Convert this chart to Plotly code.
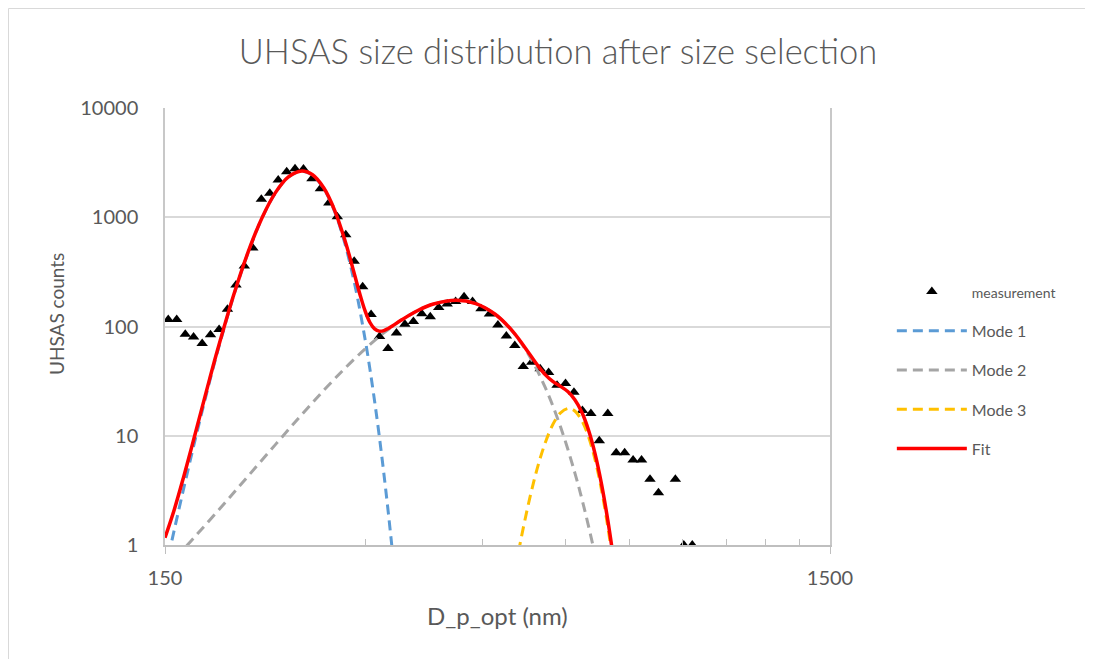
import plotly.graph_objects as go

# ---------------- data ----------------
diam_nm = [151.7, 156.2, 160.9, 165.6, 170.6, 175.6, 180.9, 186.2, 191.8, 197.4,
           203.3, 209.4, 215.6, 222.0, 228.6, 235.3, 242.3, 249.5, 256.9, 264.5,
           272.4, 280.5, 288.8, 297.4, 306.2, 315.3, 324.7, 334.3, 344.2, 354.5,
           365.0, 375.8, 387.0, 398.5, 410.3, 422.5, 435.1, 448.0, 461.3, 475.0,
           489.1, 503.6, 518.6, 534.0, 549.8, 566.2, 583.0, 600.3, 618.1, 636.5,
           655.4, 674.8, 694.9, 715.5, 736.7, 758.6, 781.1, 804.3, 828.2, 852.8,
           878.1, 904.2, 931.1]
counts = [116, 116, 85, 80, 70, 84, 94, 144, 240, 358,
          523, 1460, 1657, 2193, 2612, 2782, 2766, 2254, 1825, 1350,
          1012, 692, 395, 231, 129, 81, 63, 87, 105, 111,
          131, 123, 149, 161, 169, 187, 169, 145, 130, 103,
          82, 67, 43, 47, 41, 38, 29, 30, 25, 17,
          16, 9, 16, 7, 7, 6, 6, 4, 3, None,
          4, 1, 1]

mode1_x = [150, 155, 160, 165, 170, 175, 180, 190, 200, 210, 220, 230, 241,
           250, 260, 270, 280, 290, 300, 305, 310, 315, 320, 325, 330, 335]
mode1_y = [0.568, 1.40, 3.28, 7.30, 15.4, 31.1, 59.4, 185.9, 474.8, 989.5, 1681, 2329, 2635,
           2426, 1824, 1118, 559, 228, 75.8, 40.5, 20.6, 9.92, 4.54, 1.98, 0.82, 0.32]

mode2_x = [150, 160, 170, 185, 200, 220, 240, 260, 280, 300, 320, 340, 360, 380, 411,
           440, 470, 500, 530, 560, 590, 620, 640, 660, 670]
mode2_y = [0.598, 0.917, 1.381, 2.47, 4.27, 8.34, 15.25, 26.1, 41.7, 62.4, 87.3, 114.4, 140.1, 160.6, 174,
           162.2, 130.2, 90.0, 53.5, 27.4, 12.07, 4.58, 2.21, 0.997, 0.653]

mode3_x = [505, 512, 520, 530, 540, 550, 560, 570, 580, 590, 607,
           620, 635, 650, 665, 680, 695, 705, 712]
mode3_y = [0.622, 0.970, 1.551, 2.63, 4.19, 6.25, 8.73, 11.45, 14.07, 16.22, 17.8,
           16.86, 13.83, 9.81, 6.02, 3.19, 1.467, 0.805, 0.509]

fit_x = [150, 155, 160, 165, 170, 175, 180, 190, 200, 210, 220, 230, 241, 250, 260,
         270, 280, 285, 290, 295, 300, 305, 310, 315, 320, 325, 330, 340, 360, 380, 411,
         440, 470, 500, 530, 545, 560, 575, 590, 605, 620, 635, 650, 665, 680, 695, 705, 712]
fit_y = [1.166, 2.14, 4.20, 8.43, 16.8, 32.8, 61.5, 188.9, 479, 995.5, 1689, 2340, 2651, 2446, 1850,
         1151, 601, 412.7, 279, 191.6, 138.2, 108.8, 95.0, 90.7, 91.8, 96.0, 101.6, 114.5, 140.1, 160.6, 174,
         162.2, 130.2, 90.4, 56.1, 44.2, 36.1, 31.3, 28.3, 25.4, 21.4, 16.5, 11.3, 6.83, 3.61, 1.68, 0.94, 0.60]

x_tick_vals = [150, 1500]
x_tick_text = ["150", "1500"]
x_minor_vals = [300, 450, 600, 750, 900, 1050, 1200, 1350]
y_tick_vals = [1, 10, 100, 1000, 10000]
y_tick_text = ["1", "10", "100", "1000", "10000"]

# ---------------- figure ----------------
FONT = "Lato"
TXT = "#595959"
DASH = "10px,6px"
fig = go.Figure()

fig.add_trace(go.Scatter(
    x=diam_nm, y=counts, mode="markers",
    name="<span style='font-size:14px'>measurement</span>",
    marker=dict(symbol="triangle-up", size=10, color="black"),
    legendgroup="a"))
fig.add_trace(go.Scatter(
    x=mode1_x, y=mode1_y, mode="lines", name="Mode 1", line_shape="spline",
    line=dict(color="#5B9BD5", width=3, dash=DASH), legendgroup="b"))
fig.add_trace(go.Scatter(
    x=mode2_x, y=mode2_y, mode="lines", name="Mode 2", line_shape="spline",
    line=dict(color="#A5A5A5", width=3, dash=DASH), legendgroup="c"))
fig.add_trace(go.Scatter(
    x=mode3_x, y=mode3_y, mode="lines", name="Mode 3", line_shape="spline",
    line=dict(color="#FFC000", width=3, dash=DASH), legendgroup="d"))
fig.add_trace(go.Scatter(
    x=fit_x, y=fit_y, mode="lines", name="Fit", line_shape="spline",
    line=dict(color="#FF0000", width=3.5), legendgroup="e"))

L, R, T, B = 157, 271, 100, 122
PW, PH = 1093 - L - R, 659 - T - B  # 665 x 437

fig.update_layout(
    width=1093, height=659,
    margin=dict(l=L, r=R, t=T, b=B),
    paper_bgcolor="white", plot_bgcolor="white",
    font=dict(family=FONT, color=TXT, size=16),
    title=dict(text="UHSAS size distribution after size selection",
               x=550 / 1093, xanchor="center", y=1 - 44 / 659, yanchor="middle",
               font=dict(family=FONT, size=34.5, color=TXT, weight=300)),
    showlegend=True,
    legend=dict(x=1.093, xanchor="left", y=0.619, yanchor="top",
                font=dict(family=FONT, size=16, color=TXT),
                traceorder="grouped", tracegroupgap=15.5, itemwidth=70,
                bgcolor="rgba(0,0,0,0)"),
    shapes=[dict(type="rect", xref="paper", yref="paper",
                 x0=-(L - 0.5) / PW, x1=1.5, y0=-0.5, y1=1 + (T - 0.5) / PH,
                 line=dict(color="#D9D9D9", width=1), layer="below")],
    annotations=[
        dict(text="UHSAS counts", xref="paper", yref="paper",
             x=(48 - L) / PW, y=(T + PH - 306) / PH, xanchor="center", yanchor="middle",
             textangle=-90, showarrow=False, font=dict(family=FONT, size=19, color=TXT)),
        dict(text="D_p_opt (nm)", xref="paper", yref="paper",
             x=0.5, y=(T + PH - 607) / PH, xanchor="center", yanchor="middle",
             showarrow=False, font=dict(family=FONT, size=24, color=TXT)),
    ],
)

fig.update_xaxes(
    type="log", range=[2.176091259, 3.176091259],
    tickmode="array", tickvals=x_tick_vals, ticktext=x_tick_text,
    ticks="outside", ticklen=7, tickcolor="#BFBFBF",
    ticklabelstandoff=7,
    minor=dict(tickmode="array", tickvals=x_minor_vals, ticks="inside",
               ticklen=6, tickcolor="#BFBFBF", showgrid=False),
    showgrid=True, gridcolor="#D9D9D9", gridwidth=1,
    showline=True, linecolor="#BFBFBF", linewidth=1.5,
    tickfont=dict(family=FONT, size=20, color=TXT),
    zeroline=False)

fig.update_yaxes(
    type="log", range=[0, 4],
    tickmode="array", tickvals=y_tick_vals, ticktext=y_tick_text,
    ticks="", showgrid=True, gridcolor="#D9D9D9", gridwidth=1.5,
    showline=True, linecolor="#C8C8C8", linewidth=1.5, mirror=True,
    tickfont=dict(family=FONT, size=20, color=TXT),
    ticklabelstandoff=21,
    zeroline=False)

fig.write_html("out.html")
